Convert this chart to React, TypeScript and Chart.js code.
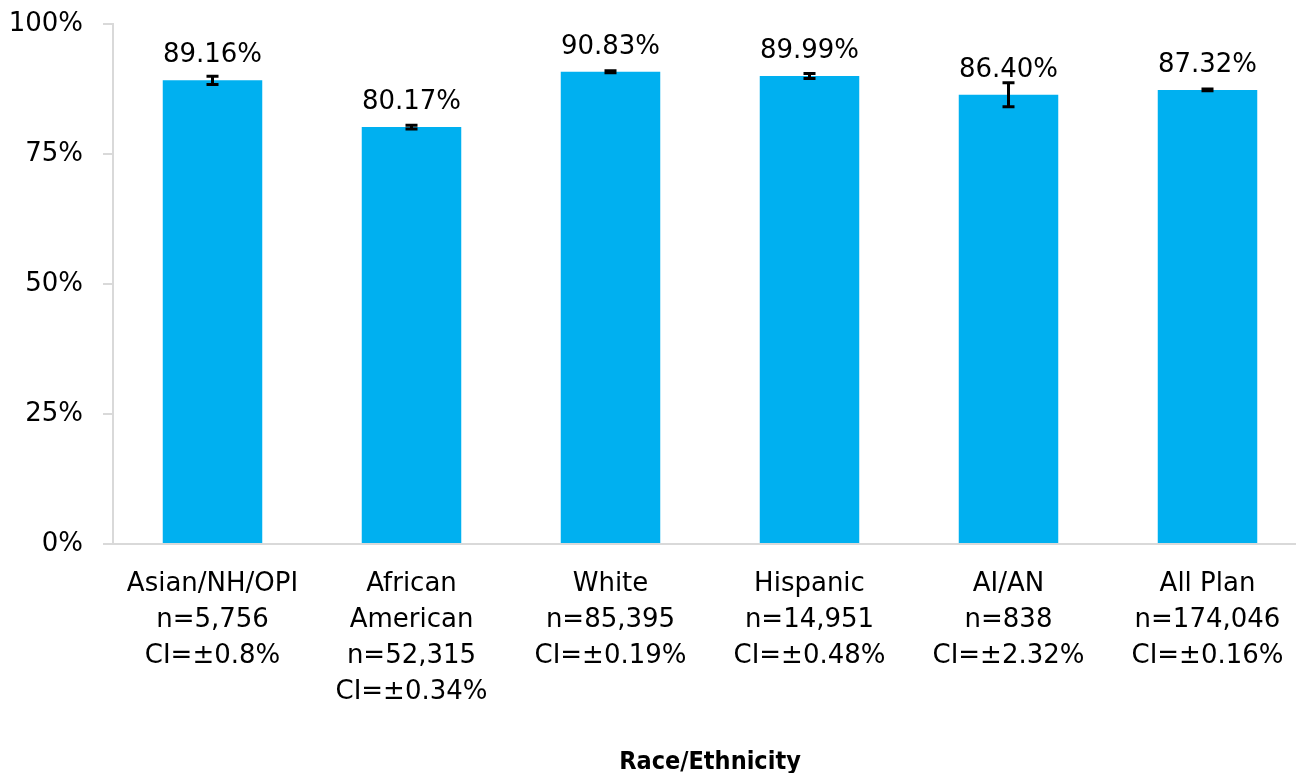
import React, { useEffect, useRef } from "react";
import { Chart, registerables } from "chart.js";

Chart.register(...registerables);

const categories: string[][] = [
  ["Asian/NH/OPI"],
  ["African", "American"],
  ["White"],
  ["Hispanic"],
  ["AI/AN"],
  ["All Plan"],
];
const nCounts: string[] = ["5,756", "52,315", "85,395", "14,951", "838", "174,046"];
const ciValues: number[] = [0.8, 0.34, 0.19, 0.48, 2.32, 0.16];
const ciLabels: string[] = ["0.8", "0.34", "0.19", "0.48", "2.32", "0.16"];
const values: number[] = [89.16, 80.17, 90.83, 89.99, 86.4, 87.32];
const yTicks: number[] = [0, 25, 50, 75, 100];
const xTitle = "Race/Ethnicity";

const BAR_COLOR = "#00B0F0";
const AXIS_COLOR = "#D9D9D9";
const FONT = "'DejaVu Sans', sans-serif";

const labels = categories.map((c, i) => [...c, `n=${nCounts[i]}`, `CI=±${ciLabels[i]}%`]);

const overlayPlugin = {
  id: "overlay",
  afterDatasetsDraw(chart: any) {
    const { ctx, scales, chartArea } = chart;
    const yScale = scales.y;
    const meta = chart.getDatasetMeta(0);
    ctx.save();
    // error bars
    ctx.strokeStyle = "#000";
    ctx.lineWidth = 3;
    meta.data.forEach((bar: any, i: number) => {
      const x = bar.x;
      const yTop = yScale.getPixelForValue(values[i] + ciValues[i]);
      const yBot = yScale.getPixelForValue(values[i] - ciValues[i]);
      ctx.beginPath();
      ctx.moveTo(x, yTop);
      ctx.lineTo(x, yBot);
      ctx.moveTo(x - 6, yTop);
      ctx.lineTo(x + 6, yTop);
      ctx.moveTo(x - 6, yBot);
      ctx.lineTo(x + 6, yBot);
      ctx.stroke();
    });
    // value labels
    ctx.fillStyle = "#000";
    ctx.font = `26px ${FONT}`;
    ctx.textAlign = "center";
    ctx.textBaseline = "alphabetic";
    meta.data.forEach((bar: any, i: number) => {
      ctx.fillText(values[i].toFixed(2) + "%", bar.x, bar.y - 18);
    });
    // axis title
    ctx.font = `bold 25px 'DejaVu Sans Condensed', ${FONT}`;
    ctx.textBaseline = "middle";
    ctx.fillText(xTitle, (chartArea.left + chartArea.right) / 2, 762);
    ctx.restore();
  },
};

export default function App() {
  const ref = useRef<HTMLCanvasElement | null>(null);
  useEffect(() => {
    if (!ref.current) return;
    const chart = new Chart(ref.current, {
      type: "bar",
      data: {
        labels,
        datasets: [
          {
            data: values,
            backgroundColor: BAR_COLOR,
            barPercentage: 0.5,
            categoryPercentage: 1.0,
          },
        ],
      },
      options: {
        responsive: false,
        animation: false,
        layout: { padding: { top: 24, right: 3, left: 0, bottom: 0 } },
        plugins: { legend: { display: false }, tooltip: { enabled: false } },
        scales: {
          x: {
            grid: { display: false },
            border: { display: true, color: AXIS_COLOR, width: 2 },
            ticks: {
              autoSkip: false,
              maxRotation: 0,
              minRotation: 0,
              padding: 14,
              color: "#000",
              font: { family: FONT, size: 26, lineHeight: 36 / 26 },
            },
            afterFit(scale: any) {
              scale.height = 229;
            },
          },
          y: {
            min: 0,
            max: 100,
            afterBuildTicks(scale: any) {
              scale.ticks = yTicks.map((v) => ({ value: v }));
            },
            grid: {
              drawOnChartArea: false,
              drawTicks: true,
              tickLength: 10,
              color: AXIS_COLOR,
              lineWidth: 2,
            },
            border: { display: true, color: AXIS_COLOR, width: 2 },
            ticks: {
              padding: 20,
              color: "#000",
              font: { family: FONT, size: 26 },
              callback: (v: any) => v + "%",
            },
            afterFit(scale: any) {
              scale.width = 113;
              scale.paddingTop = 0;
              scale.paddingBottom = 0;
            },
          },
        },
      },
      plugins: [overlayPlugin],
    });
    return () => chart.destroy();
  }, []);
  return (
    <div
      style={{
        position: "fixed",
        left: 0,
        top: 0,
        width: 1296,
        height: 773,
        overflow: "hidden",
        background: "#fff",
      }}
    >
      <canvas ref={ref} width={1310} height={773} style={{ display: "block" }} />
    </div>
  );
}
